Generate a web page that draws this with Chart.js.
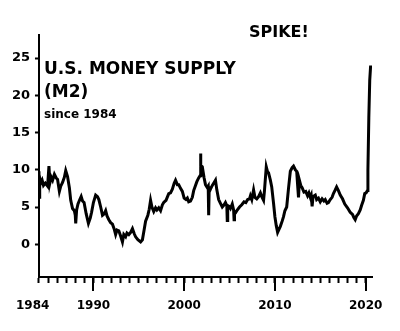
<!DOCTYPE html>
<html>
<head>
<meta charset="utf-8">
<script src="https://cdn.jsdelivr.net/npm/chart.js@4"></script>
<style>
    html, body { margin: 0; padding: 0; background: #ffffff; }
    #chart-box { width: 400px; height: 331px; }
</style>
</head>
<body>
<div id="chart-box"><canvas id="m2-canva"></canvas></div>
<script>
// year-over-year growth of M2, percent
var years = [
    1984.0, 1984.03, 1984.08, 1984.2, 1984.35, 1984.5, 1984.7, 1984.95, 1985.1, 1985.2,
    1985.35, 1985.5, 1985.7, 1985.9, 1986.05, 1986.25, 1986.4, 1986.6, 1986.8, 1986.95,
    1987.15, 1987.35, 1987.5, 1987.7, 1987.9, 1988.0, 1988.05, 1988.15, 1988.3, 1988.5,
    1988.65, 1988.8, 1988.97, 1989.2, 1989.45, 1989.65, 1989.8, 1990.0, 1990.25, 1990.45,
    1990.6, 1990.8, 1991.0, 1991.2, 1991.35, 1991.5, 1991.7, 1991.9, 1992.1, 1992.3,
    1992.45, 1992.6, 1992.8, 1993.0, 1993.2, 1993.35, 1993.55, 1993.7, 1993.9, 1994.1,
    1994.3, 1994.5, 1994.65, 1994.9, 1995.2, 1995.4, 1995.6, 1995.75, 1996.0, 1996.15,
    1996.3, 1996.45, 1996.65, 1996.85, 1997.0, 1997.2, 1997.4, 1997.6, 1997.75, 1998.0,
    1998.3, 1998.5, 1998.7, 1998.9, 1999.05, 1999.25, 1999.4, 1999.6, 1999.8, 2000.0,
    2000.2, 2000.35, 2000.5, 2000.7, 2000.9, 2001.05, 2001.25, 2001.4, 2001.6, 2001.75,
    2001.8, 2001.85, 2002.0, 2002.2, 2002.35, 2002.55, 2002.65, 2002.7, 2002.75, 2002.9,
    2003.1, 2003.3, 2003.45, 2003.6, 2003.8, 2004.0, 2004.2, 2004.4, 2004.55, 2004.7,
    2004.75, 2004.8, 2004.95, 2005.1, 2005.3, 2005.45, 2005.5, 2005.55, 2005.7, 2005.85,
    2006.1, 2006.35, 2006.6, 2006.8, 2007.0, 2007.2, 2007.3, 2007.45, 2007.65, 2007.8,
    2008.0, 2008.2, 2008.4, 2008.55, 2008.75, 2008.85, 2009.05, 2009.2, 2009.3, 2009.5,
    2009.65, 2009.85, 2010.0, 2010.15, 2010.3, 2010.45, 2010.6, 2010.8, 2010.95, 2011.1,
    2011.3, 2011.5, 2011.7, 2011.9, 2012.05, 2012.25, 2012.4, 2012.5, 2012.6, 2012.7,
    2012.85, 2013.0, 2013.2, 2013.4, 2013.6, 2013.75, 2013.9, 2014.0, 2014.1, 2014.2,
    2014.45, 2014.6, 2014.8, 2015.0, 2015.2, 2015.4, 2015.55, 2015.75, 2015.9, 2016.1,
    2016.3, 2016.45, 2016.65, 2016.8, 2017.0, 2017.2, 2017.45, 2017.7, 2018.0, 2018.3,
    2018.55, 2018.7, 2018.85, 2019.0, 2019.2, 2019.4, 2019.55, 2019.75, 2019.9, 2020.05,
    2020.2, 2020.25, 2020.35, 2020.45, 2020.55
];
var growth = [
    9.8, 6.3, 8.9, 8.2, 8.6, 7.9, 8.2, 7.8, 10.5, 8.2,
    9.0, 8.6, 9.4, 8.9, 8.7, 7.1, 7.8, 8.3, 9.0, 9.9,
    9.1, 7.6, 5.9, 4.8, 4.5, 3.9, 2.8, 4.6, 5.4, 6.0,
    6.4, 5.8, 5.6, 4.1, 2.8, 3.5, 4.3, 5.6, 6.6, 6.4,
    6.0, 5.0, 3.9, 4.1, 4.5, 3.8, 3.3, 2.9, 2.7, 2.0,
    1.3, 1.9, 1.8, 1.1, 0.3, 1.3, 1.0, 1.5, 1.3, 1.6,
    2.1, 1.4, 1.0, 0.6, 0.3, 0.6, 2.0, 3.1, 3.9, 4.7,
    5.9, 5.0, 4.4, 4.9, 4.6, 4.9, 4.5, 5.3, 5.6, 5.9,
    6.8, 6.9, 7.4, 8.2, 8.6, 8.0, 8.0, 7.5, 7.1, 6.2,
    6.0, 6.2, 5.7, 5.8, 6.3, 7.2, 7.9, 8.4, 8.9, 9.2,
    12.2, 10.6, 10.4, 8.9, 8.0, 7.6, 7.8, 3.9, 7.0, 7.4,
    7.9, 8.3, 8.6, 7.3, 6.0, 5.5, 5.0, 5.3, 5.6, 5.2,
    3.2, 5.2, 5.1, 4.8, 5.4, 4.6, 3.3, 4.4, 4.3, 4.6,
    5.0, 5.3, 5.7, 5.6, 6.0, 6.1, 6.5, 6.0, 7.3, 6.3,
    6.1, 6.4, 6.9, 6.4, 5.9, 7.2, 10.4, 9.7, 9.6, 8.6,
    7.7, 5.5, 3.7, 2.5, 1.6, 2.0, 2.4, 3.1, 3.7, 4.5,
    5.0, 7.5, 9.8, 10.3, 10.5, 10.0, 9.8, 8.0, 6.3, 8.6,
    7.9, 7.6, 7.0, 7.1, 6.5, 6.9, 6.3, 6.6, 5.1, 6.4,
    6.6, 6.0, 6.2, 5.7, 6.1, 5.8, 6.0, 5.5, 5.6, 6.0,
    6.3, 6.8, 7.3, 7.7, 7.2, 6.6, 6.1, 5.4, 4.9, 4.3,
    4.0, 3.6, 3.3, 3.8, 4.1, 4.6, 5.2, 5.9, 6.8, 6.9,
    7.2, 10.0, 17.0, 22.0, 24.0
];
var yTicks = [0, 5, 10, 15, 20, 25];
var yearLabels = [1984, 1990, 2000, 2010, 2020];
var firstYear = 1984;
var lastYear = 2020;

function buildPoints () {
    let points = [];
    for (let index = 0; index < years.length; index++) {
        points.push({ x: years[index], y: growth[index] });
    }
    return points;
}

function yearTicks () {
    let ticks = [];
    for (let year = firstYear; year <= lastYear; year++) {
        ticks.push({ value: year });
    }
    return ticks;
}

function yearLabel (value) {
    if (!yearLabels.includes(value)) {
        return "";
    }
    // first label sits a little left of its tick
    return value == firstYear ? value + "   " : String(value);
}

// longer marks under each decade, and the headline text
var decorations = {
    id: "decorations",
    afterDraw: function (chart) {
        let ctx = chart.ctx;
        let xScale = chart.scales.x;
        let bottom = chart.chartArea.bottom;
        ctx.save();
        ctx.strokeStyle = "#000000";
        ctx.lineWidth = 2;
        for (let year = 1990; year <= lastYear; year += 10) {
            let px = Math.round(xScale.getPixelForValue(year));
            ctx.beginPath();
            ctx.moveTo(px, bottom);
            ctx.lineTo(px, bottom + 14);
            ctx.stroke();
        }

        ctx.fillStyle = "#000000";
        ctx.textAlign = "left";
        ctx.textBaseline = "alphabetic";
        ctx.font = "bold 17px 'DejaVu Sans'";
        ctx.fillText("U.S. MONEY SUPPLY", 44, 74);
        ctx.fillText("(M2)", 44, 97);
        ctx.font = "bold 12px 'DejaVu Sans'";
        ctx.fillText("since 1984", 44, 118);
        ctx.font = "bold 16px 'DejaVu Sans'";
        ctx.fillText("SPIKE!", 249, 37);
        ctx.restore();
    }
};

var canva = document.querySelector("#m2-canva").getContext("2d");
var chart = new Chart(canva, {
    type: "line",
    data: {
        datasets: [
            {
                label: "M2",
                data: buildPoints(),
                borderColor: "#000000",
                borderWidth: 3,
                pointRadius: 0,
                fill: false,
                tension: 0
            }
        ]
    },
    options: {
        responsive: true,
        maintainAspectRatio: false,
        animation: false,
        layout: { padding: { top: 35, right: 28, left: 0, bottom: 0 } },
        plugins: {
            legend: { display: false },
            tooltip: { enabled: false }
        },
        scales: {
            x: {
                type: "linear",
                min: 1984,
                max: 2020.7,
                afterBuildTicks: function (scale) {
                    scale.ticks = yearTicks();
                },
                afterFit: function (scale) {
                    scale.height = 54;
                },
                grid: {
                    drawOnChartArea: false,
                    drawTicks: true,
                    tickLength: 6,
                    tickWidth: 2,
                    color: "#000000"
                },
                border: { display: true, color: "#000000", width: 2 },
                ticks: {
                    autoSkip: false,
                    maxRotation: 0,
                    padding: 16,
                    color: "#000000",
                    font: { family: "DejaVu Sans", weight: "bold", size: 12 },
                    callback: yearLabel
                }
            },
            y: {
                min: -4.4,
                max: 28.1,
                afterBuildTicks: function (scale) {
                    scale.ticks = yTicks.map(function (v) { return { value: v }; });
                },
                afterFit: function (scale) {
                    scale.width = 38;
                },
                grid: {
                    drawOnChartArea: false,
                    drawTicks: true,
                    tickLength: 4,
                    tickWidth: 2,
                    color: "#000000"
                },
                border: { display: true, color: "#000000", width: 2 },
                ticks: {
                    padding: 5,
                    color: "#000000",
                    font: { family: "DejaVu Sans", weight: "bold", size: 13 }
                }
            }
        }
    },
    plugins: [decorations]
});
</script>
</body>
</html>
